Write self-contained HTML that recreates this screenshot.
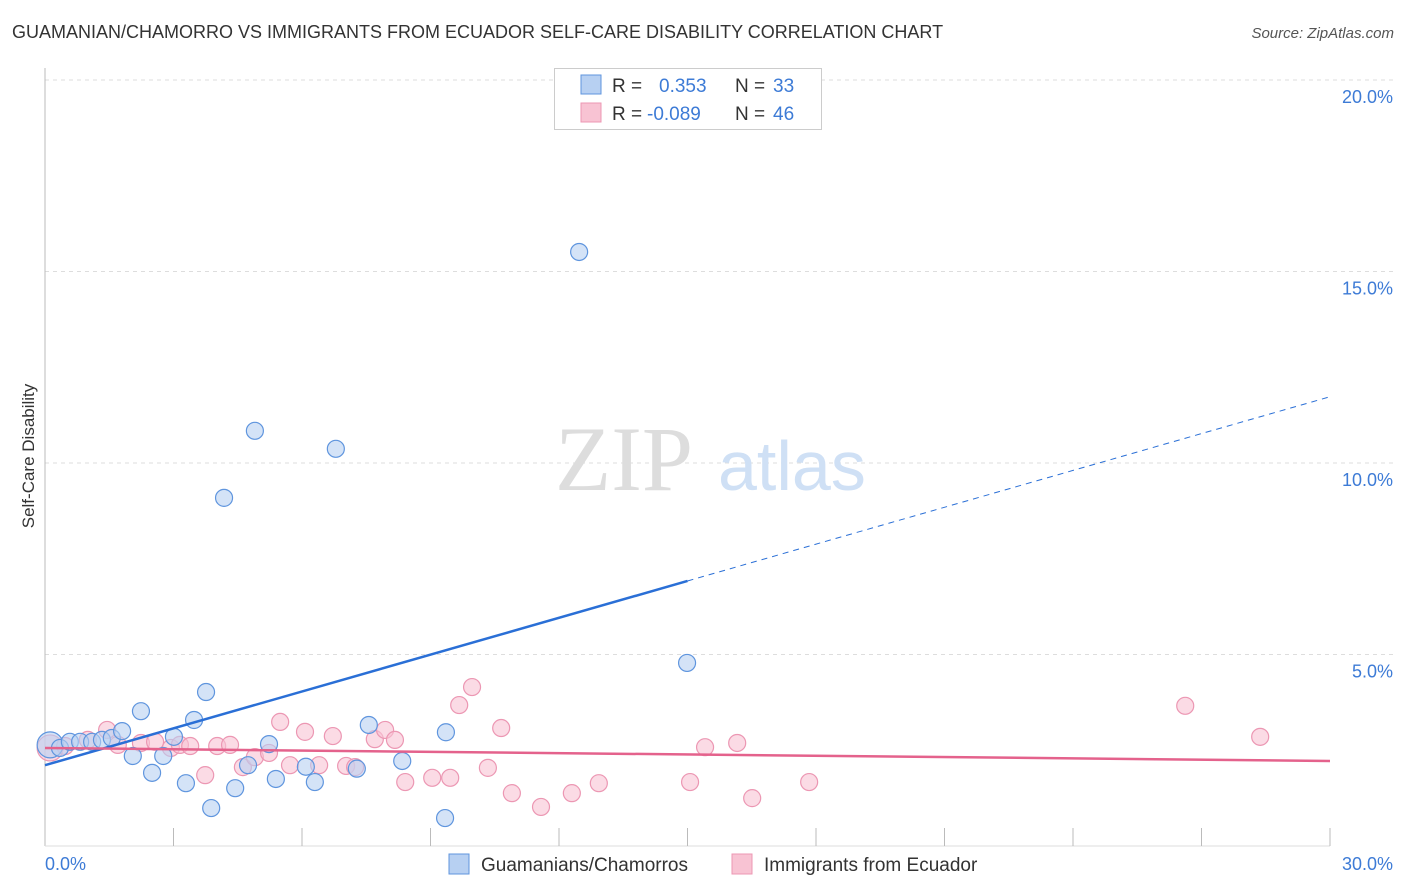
<!DOCTYPE html>
<html><head><meta charset="utf-8"><style>
body{margin:0;background:#fff;font-family:"Liberation Sans",sans-serif;}
#wrap{position:relative;width:1406px;height:892px;overflow:hidden}
.t{position:absolute;white-space:nowrap}
</style></head><body><div id="wrap">
<div class="t" style="left:12px;top:22px;font-size:18px;color:#333">GUAMANIAN/CHAMORRO VS IMMIGRANTS FROM ECUADOR SELF-CARE DISABILITY CORRELATION CHART</div>
<div class="t" style="right:12px;top:25px;font-size:15px;color:#555;font-style:italic">Source: ZipAtlas.com</div>
<svg id="svg" width="1406" height="892" style="position:absolute;left:0;top:0" font-family="Liberation Sans, sans-serif"></svg>
</div>
<script>
const xTicks=[0,30];
const yTicks=[5,10,15,20];
const blueX=[0.12,0.35,0.58,0.82,1.10,1.33,1.56,1.80,2.05,2.24,2.50,2.76,3.01,3.29,3.48,3.76,3.88,4.18,4.44,4.74,4.90,5.23,5.39,6.09,6.30,6.79,7.28,7.56,8.34,9.36,9.34,12.47,14.99];
const blueY=[2.64,2.56,2.72,2.72,2.72,2.77,2.82,3.00,2.35,3.52,1.91,2.35,2.85,1.64,3.29,4.02,0.99,9.09,1.51,2.11,10.84,2.66,1.75,2.07,1.67,10.37,2.02,3.16,2.22,2.97,0.73,15.51,4.78];
const pinkX=[0.12,0.47,1.00,1.45,1.70,2.24,2.57,2.94,3.15,3.39,3.74,4.02,4.32,4.62,4.90,5.23,5.49,5.72,6.07,6.40,6.72,7.03,7.24,7.70,7.94,8.17,8.41,9.04,9.46,9.67,9.97,10.34,10.65,10.90,11.58,12.30,12.93,15.06,15.41,16.16,16.51,17.84,26.62,28.37];
const pinkY=[2.56,2.61,2.77,3.03,2.64,2.69,2.72,2.56,2.64,2.61,1.85,2.61,2.64,2.06,2.32,2.43,3.24,2.11,2.98,2.11,2.87,2.09,2.06,2.79,3.03,2.77,1.67,1.78,1.78,3.68,4.15,2.04,3.08,1.38,1.02,1.38,1.64,1.67,2.58,2.69,1.25,1.67,3.66,2.85];
const blueTrend=[2.11,11.73];
const pinkTrend=[2.56,2.22];
const X0=45,X1=1330,Y0=846,YT=80;
const sx=v=>X0+(X1-X0)*v/30, sy=v=>Y0-(Y0-YT)*v/20;
const svg=document.getElementById('svg');const NS='http://www.w3.org/2000/svg';
function mk(tag,a,p){const e=document.createElementNS(NS,tag);for(const k in a)e.setAttribute(k,a[k]);(p||svg).appendChild(e);return e;}
yTicks.forEach(v=>{
 const g=mk('line',{x1:X0,x2:1393,y1:sy(v),y2:sy(v),stroke:'#ddd','stroke-dasharray':'4,4'});
 
 
 const t=mk('text',{x:1393,y:sy(v)+23,'text-anchor':'end','font-size':18,fill:'#3d7bd6'});t.textContent=v.toFixed(1)+'%';
 
 
});
const ax=mk('line',{x1:X0,x2:X0,y1:68,y2:Y0,stroke:'#bbb'});


const bx=mk('line',{x1:X0,x2:X1,y1:Y0,y2:Y0,stroke:'#ddd'});


for(let i=1;i<=10;i++){const l=mk('line',{x1:sx(i*3),x2:sx(i*3),y1:828,y2:Y0,stroke:'#bbb'});
 
 }
xTicks.forEach((v,i)=>{const t=mk('text',{x:i?1393:45,y:870,'text-anchor':i?'end':'start','font-size':18,fill:'#3d7bd6'});t.textContent=v.toFixed(1)+'%';
 
 });
const yt=mk('text',{x:34,y:456,'text-anchor':'middle','font-size':17,fill:'#333',transform:'rotate(-90 34 456)'});yt.textContent='Self-Care Disability';


const w1=mk('text',{x:555,y:490,'font-size':92,fill:'#ddd','font-family':'Liberation Serif, serif'});w1.textContent='ZIP';


const w2=mk('text',{x:718,y:490,'font-size':70,fill:'#cfe0f5'});w2.textContent='atlas';


function dots(xs,ys,fill,stroke,name){xs.forEach((x,i)=>{const c=mk('circle',{cx:sx(x),cy:sy(ys[i]),r:i==0?13:8.5,fill:fill,'fill-opacity':0.6,stroke:stroke,'stroke-width':1.2});
 
 });}
dots(pinkX,pinkY,'#f8c3d3','#ec97b3','ecuador-point');
dots(blueX,blueY,'#b7d0f2','#5f95de','guamanian-point');
const bl=mk('line',{x1:sx(0),y1:sy(blueTrend[0]),x2:sx(15),y2:sy(blueTrend[0]+(blueTrend[1]-blueTrend[0])/2),stroke:'#2a6fd6','stroke-width':2.5});


const bd=mk('line',{x1:sx(15),y1:sy(blueTrend[0]+(blueTrend[1]-blueTrend[0])/2),x2:sx(30),y2:sy(blueTrend[1]),stroke:'#2a6fd6','stroke-width':1,'stroke-dasharray':'6,5'});


const pl=mk('line',{x1:sx(0),y1:sy(pinkTrend[0]),x2:sx(30),y2:sy(pinkTrend[1]),stroke:'#e4628c','stroke-width':2.5});


// legend box
const lg=mk('rect',{x:554.5,y:68.5,width:267,height:61,fill:'#fff',stroke:'#ccc'});


[[0,'#b7d0f2','#5f95de','0.353','33'],[1,'#f8c3d3','#ec97b3','-0.089','46']].forEach(r=>{
 const y=85+r[0]*28;
 const s=mk('rect',{x:581,y:y-10,width:20,height:19,fill:r[1],stroke:r[2]});
 
 
 const t=mk('text',{x:612,y:y+7,'font-size':19,fill:'#333'});
 t.innerHTML='R = <tspan fill="#3d7bd6" x="'+(r[0]?647:659)+'">'+r[3]+'</tspan><tspan x="735" fill="#333">N = </tspan><tspan fill="#3d7bd6" x="773">'+r[4]+'</tspan>';
 
 
});
[[449,'#b7d0f2','#5f95de','Guamanians/Chamorros'],[732,'#f8c3d3','#ec97b3','Immigrants from Ecuador']].forEach(r=>{
 const s=mk('rect',{x:r[0],y:854,width:20,height:20,fill:r[1],stroke:r[2]});
 
 
 const t=mk('text',{x:r[0]+32,y:871,'font-size':19,fill:'#333'});t.textContent=r[3];
 
 
});
</script></body></html>
